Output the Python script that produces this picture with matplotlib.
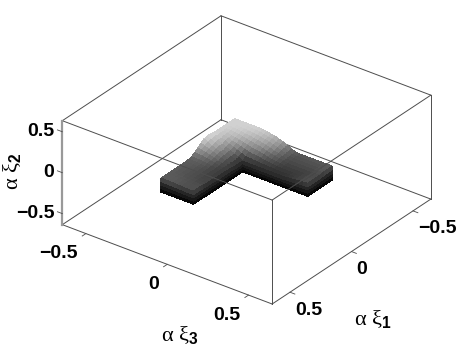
"""
plot.py

Orthographic 3D view of an L-shaped solid, with gray level following height.
"""

import numpy as np
import matplotlib
matplotlib.use("Agg")
import matplotlib.pyplot as plt
from matplotlib.colors import LinearSegmentedColormap
from mpl_toolkits.mplot3d import proj3d

plt.rcParams["font.family"] = ["Liberation Sans", "DejaVu Sans"]
plt.rcParams["mathtext.fontset"] = "custom"
plt.rcParams["mathtext.rm"] = "Liberation Serif"
plt.rcParams["mathtext.it"] = "Liberation Serif"
plt.rcParams["mathtext.bf"] = "Liberation Sans:bold"

tick_values = [-0.5, 0, 0.5]
tick_labels = ["\u22120.5", "0", "0.5"]

xi_grid = [-0.300, -0.275, -0.250, -0.225, -0.200, -0.175, -0.150, -0.125, -0.100,
           -0.075, -0.050, -0.025, 0.000, 0.025, 0.050, 0.075, 0.100, 0.125,
           0.150, 0.175, 0.200, 0.225, 0.250, 0.275, 0.300]
base_height = -0.32

# top face of the leg along xi3, rows are xi1 = -0.300 ... -0.100
top_back = [
    [-.020, -.020, -.020, -.020, -.020, -.020, -.020, -.025, -.030, -.040, -.050, -.065, -.080, -.105, -.130, -.145, -.150, -.150, -.150, -.150, -.150, -.150, -.150, -.150, -.150],
    [-.020, -.020, -.020, -.020, -.020, -.022, -.025, -.032, -.040, -.050, -.060, -.075, -.090, -.112, -.135, -.150, -.155, -.155, -.155, -.155, -.155, -.155, -.155, -.152, -.150],
    [-.020, -.020, -.020, -.022, -.025, -.028, -.035, -.042, -.050, -.060, -.070, -.085, -.100, -.120, -.140, -.152, -.160, -.160, -.160, -.160, -.160, -.160, -.160, -.155, -.150],
    [-.020, -.020, -.022, -.026, -.032, -.040, -.048, -.056, -.065, -.075, -.085, -.100, -.115, -.130, -.145, -.157, -.165, -.165, -.165, -.165, -.165, -.165, -.163, -.158, -.155],
    [-.020, -.025, -.030, -.035, -.040, -.050, -.060, -.070, -.080, -.090, -.100, -.115, -.130, -.140, -.150, -.160, -.170, -.170, -.170, -.170, -.170, -.170, -.170, -.165, -.160],
    [-.020, -.028, -.038, -.048, -.055, -.065, -.080, -.090, -.105, -.112, -.120, -.132, -.145, -.152, -.160, -.167, -.175, -.175, -.175, -.175, -.175, -.175, -.172, -.167, -.160],
    [-.020, -.030, -.040, -.055, -.070, -.085, -.100, -.115, -.130, -.135, -.140, -.150, -.160, -.165, -.170, -.175, -.180, -.180, -.180, -.180, -.180, -.175, -.170, -.165, -.160],
    [-.015, -.028, -.045, -.060, -.085, -.105, -.120, -.140, -.160, -.163, -.165, -.170, -.175, -.178, -.180, -.183, -.185, -.185, -.185, -.182, -.180, -.175, -.170, -.165, -.160],
    [-.010, -.030, -.050, -.075, -.100, -.120, -.140, -.165, -.190, -.190, -.190, -.190, -.190, -.190, -.190, -.190, -.190, -.190, -.190, -.185, -.180, -.175, -.170, -.165, -.160],
]
# top face of the leg along xi1, rows are xi1 = -0.100 ... 0.300
top_left_leg = [
    [-.010, -.030, -.050, -.075, -.100, -.120, -.140, -.165, -.190],
    [-.015, -.035, -.055, -.078, -.105, -.125, -.148, -.170, -.190],
    [-.020, -.045, -.070, -.090, -.110, -.130, -.150, -.170, -.190],
    [-.050, -.065, -.085, -.100, -.120, -.137, -.155, -.170, -.185],
    [-.080, -.090, -.100, -.115, -.130, -.145, -.160, -.170, -.180],
    [-.110, -.115, -.120, -.130, -.140, -.152, -.165, -.172, -.180],
    [-.140, -.140, -.140, -.145, -.150, -.160, -.170, -.175, -.180],
    [-.145, -.145, -.147, -.152, -.155, -.162, -.170, -.175, -.180],
    [-.150, -.150, -.150, -.155, -.160, -.165, -.170, -.175, -.180],
    [-.150, -.150, -.152, -.155, -.160, -.165, -.170, -.175, -.175],
    [-.150, -.150, -.155, -.157, -.160, -.165, -.170, -.170, -.170],
    [-.150, -.150, -.155, -.157, -.160, -.163, -.167, -.170, -.170],
    [-.150, -.150, -.155, -.157, -.160, -.163, -.165, -.170, -.170],
    [-.150, -.150, -.152, -.155, -.158, -.160, -.163, -.165, -.165],
    [-.150, -.150, -.150, -.152, -.155, -.157, -.160, -.160, -.160],
    [-.150, -.150, -.150, -.152, -.155, -.157, -.160, -.160, -.160],
    [-.150, -.150, -.150, -.152, -.155, -.157, -.160, -.160, -.160],
]

gray_heights = [-0.32, -0.19, -0.10, -0.02]
gray_levels = [0.0, 0.19, 0.55, 0.82]

LIM = 0.645
ZLIM = 0.635


def draw_box(ax):
    """Draw the twelve box edges, back ones below the solid, front ones above."""
    lo_x, hi_x = -LIM, LIM
    near_y, far_y = LIM, -LIM
    lo_z, hi_z = -ZLIM, ZLIM
    edge = {"color": "0.3", "linewidth": 0.7, "clip_on": False}

    back_edges = [
        ((lo_x, lo_x), (far_y, far_y), (lo_z, hi_z)),
        ((lo_x, lo_x), (far_y, near_y), (lo_z, lo_z)),
        ((lo_x, hi_x), (far_y, far_y), (lo_z, lo_z)),
    ]
    front_edges = [
        ((lo_x, hi_x), (near_y, near_y), (lo_z, lo_z)),
        ((hi_x, hi_x), (near_y, far_y), (lo_z, lo_z)),
        ((hi_x, hi_x), (near_y, near_y), (lo_z, hi_z)),
        ((hi_x, hi_x), (far_y, far_y), (lo_z, hi_z)),
        ((lo_x, hi_x), (near_y, near_y), (hi_z, hi_z)),
        ((hi_x, hi_x), (near_y, far_y), (hi_z, hi_z)),
        ((lo_x, hi_x), (far_y, far_y), (hi_z, hi_z)),
        ((lo_x, lo_x), (near_y, far_y), (hi_z, hi_z)),
    ]
    for x, y, z in back_edges:
        ax.plot(x, y, z, zorder=1, **edge)
    for x, y, z in front_edges:
        ax.plot(x, y, z, zorder=5, **edge)
    ax.plot((lo_x, lo_x), (near_y, near_y), (lo_z, hi_z),
            color="0.6", linewidth=1.6, zorder=5, clip_on=False)


def draw_solid(ax, cmap):
    """Draw the top face of both legs and the walls that face the viewer."""
    style = {"cmap": cmap, "vmin": gray_heights[0], "vmax": gray_heights[-1],
             "rstride": 1, "cstride": 1, "linewidth": 0, "antialiased": False,
             "shade": False}
    xi = np.array(xi_grid)
    back = np.array(top_back)
    left = np.array(top_left_leg)

    x, y = np.meshgrid(xi, xi[:9])
    ax.plot_surface(x, y, back, zorder=3, **style)
    x, y = np.meshgrid(xi[:9], xi[8:])
    ax.plot_surface(x, y, left, zorder=3, **style)

    # walls: (xi3 along the wall, xi1 along the wall, top edge)
    walls = [
        (xi[:9], np.full(9, xi[-1]), left[-1, :]),
        (np.full(17, xi[8]), xi[8:], left[:, -1]),
        (xi[8:], np.full(17, xi[8]), back[-1, 8:]),
        (np.full(9, xi[-1]), xi[:9], back[:, -1]),
    ]
    for wall_x, wall_y, wall_top in walls:
        fractions = np.array([0.0, 0.25, 0.5, 0.75, 1.0])[:, None]
        z = base_height + fractions * (wall_top - base_height)
        ax.plot_surface(np.tile(wall_x, (5, 1)), np.tile(wall_y, (5, 1)), z,
                        zorder=4, **style)


def draw_ticks(ax):
    """Draw the ticks and their labels next to the box edges."""
    tick = {"color": "0.3", "linewidth": 0.6, "zorder": 5, "clip_on": False}
    font = {"fontsize": 14, "fontweight": "bold", "va": "center",
            "annotation_clip": False, "textcoords": "offset pixels"}
    proj = ax.get_proj()

    for value, label in zip(tick_values, tick_labels):
        # xi3 along the front left edge
        ax.plot((value, value), (LIM, LIM + 0.03), (-ZLIM, -ZLIM), **tick)
        px, py, _ = proj3d.proj_transform(value, LIM, -ZLIM, proj)
        ax.annotate(label, (px, py), xytext=(-8, -20), ha="right", **font)

        # xi1 along the front right edge
        ax.plot((LIM, LIM + 0.03), (value, value), (-ZLIM, -ZLIM), **tick)
        px, py, _ = proj3d.proj_transform(LIM, value, -ZLIM, proj)
        ax.annotate(label, (px, py), xytext=(5, -18), ha="left", **font)

        # xi2 up the left edge
        ax.plot((-LIM, -LIM - 0.03), (LIM, LIM), (value, value), **tick)
        px, py, _ = proj3d.proj_transform(-LIM, LIM, value, proj)
        ax.annotate(label, (px, py), xytext=(-8, 0), ha="right", **font)


def main():
    fig = plt.figure(figsize=(4.63, 3.45), dpi=100)
    ax = fig.add_axes([0.0225, 0.023, 1.0, 1.0], projection="3d")
    ax.set_proj_type("ortho")
    ax.view_init(elev=30, azim=-52.9)
    ax.set_box_aspect((1, 1, 120 / 263), zoom=1.1)
    ax.computed_zorder = False
    ax.set_axis_off()

    cmap = LinearSegmentedColormap.from_list(
        "height_gray",
        [((h - gray_heights[0]) / (gray_heights[-1] - gray_heights[0]), (g, g, g))
         for h, g in zip(gray_heights, gray_levels)],
        N=256,
    )

    draw_box(ax)
    draw_solid(ax, cmap)

    ax.set_xlim(-LIM, LIM, view_margin=0)
    ax.set_ylim(LIM, -LIM, view_margin=0)
    ax.set_zlim(-ZLIM, ZLIM, view_margin=0)

    draw_ticks(ax)

    fig.text(180 / 463, 1 - 335 / 345, r"$\alpha\ \xi_{\mathbf{3}}$", fontsize=16,
             ha="center", va="center")
    fig.text(373 / 463, 1 - 319 / 345, r"$\alpha\ \xi_{\mathbf{1}}$", fontsize=16,
             ha="center", va="center")
    fig.text(12 / 463, 1 - 171 / 345, r"$\alpha\ \xi_{\mathbf{2}}$", fontsize=16,
             ha="center", va="center", rotation=90)

    fig.savefig("out.png", dpi=100)


if __name__ == "__main__":
    main()
